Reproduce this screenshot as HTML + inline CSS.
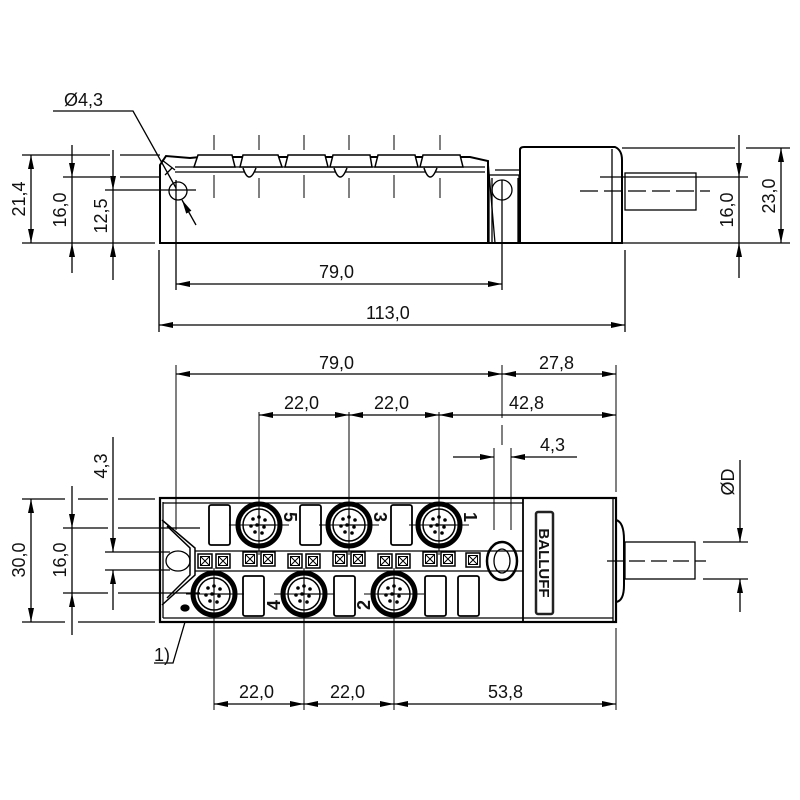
<!DOCTYPE html>
<html><head><meta charset="utf-8"><style>
html,body{margin:0;padding:0;background:#fff}
svg{display:block}
text{font-family:"Liberation Sans","DejaVu Sans",sans-serif;font-size:18px;fill:#111}
</style></head><body>
<svg width="800" height="800" viewBox="0 0 800 800" xmlns="http://www.w3.org/2000/svg">
<defs>
<marker id="a" viewBox="0 0 14 6" refX="14" refY="3" markerWidth="14" markerHeight="6" markerUnits="userSpaceOnUse" orient="auto-start-reverse"><path d="M0,0 L14,3 L0,6 Z" fill="#000"/></marker>
<g id="conn">
<circle r="21" fill="none" stroke="#000" stroke-width="5"/>
<circle r="16" fill="none" stroke="#000" stroke-width="1.5"/>
<circle cx="-6" cy="-6" r="1.8"/><circle cx="0" cy="-8" r="1.8"/><circle cx="6" cy="-5" r="1.8"/>
<circle cx="-8" cy="1" r="1.8"/><circle cx="-2" cy="0" r="1.8"/><circle cx="5" cy="2" r="1.8"/>
<circle cx="-4" cy="7" r="1.8"/><circle cx="3" cy="8" r="1.8"/>
<path d="M0,-16 V0 H16" fill="none" stroke="#000" stroke-width="1.2"/>
</g>
<g id="led"><rect x="-7" y="-7" width="14" height="14" fill="#fff" stroke="#000" stroke-width="1.5"/><rect x="-4.5" y="-4.5" width="9" height="9" fill="none" stroke="#000" stroke-width="1"/><path d="M-4.5,-4.5 L4.5,4.5 M4.5,-4.5 L-4.5,4.5" stroke="#000" stroke-width="1"/></g>
</defs>
<g stroke="#000" fill="none" stroke-width="1.3">

<!-- ===== TOP SIDE VIEW ===== -->
<path d="M160,243 L160,165 L166,156 L190,158 L200,157 L470,157 L488,161 L488,243 Z" stroke-width="2"/>
<line x1="160" y1="243" x2="520" y2="243" stroke-width="2"/>
<line x1="175" y1="172" x2="485" y2="172"/>
<line x1="175" y1="167" x2="485" y2="167"/>
<g stroke-width="1.5" fill="#fff">
<path d="M194,167 L198,155 L232,155 L235,167 Z"/><path d="M240,167 L243,155 L278,155 L282,167 Z"/>
<path d="M285,167 L288,155 L325,155 L328,167 Z"/><path d="M330,167 L333,155 L370,155 L372,167 Z"/>
<path d="M375,167 L378,155 L415,155 L418,167 Z"/><path d="M420,167 L423,155 L460,155 L463,167 Z"/>
<path d="M243,168 Q249,186 256,168"/><path d="M334,168 Q340,186 347,168"/><path d="M424,168 Q430,186 437,168"/>
</g>
<circle cx="178" cy="191" r="9"/>
<path d="M162,160 L175,170 M165,175 L172,168"/>
<path d="M488,161 L495,243 M495,170 L520,170" />
<rect x="489" y="175" width="30" height="68" fill="none"/>
<path d="M492,178 L492,243 M518,178 L518,243"/>
<circle cx="502" cy="190" r="10"/>
<path d="M520,243 L520,150 Q520,147 524,147 L615,147 Q622,150 622,160 L622,243 Z" stroke-width="2"/>
<line x1="612" y1="149" x2="612" y2="243"/>
<rect x="625" y="173" width="71" height="37"/>
<line x1="580" y1="191" x2="710" y2="191" stroke-dasharray="18,6"/>

<g stroke-width="1">
<line x1="214" y1="135" x2="214" y2="150"/><line x1="259" y1="135" x2="259" y2="150"/>
<line x1="304" y1="135" x2="304" y2="150"/><line x1="349" y1="135" x2="349" y2="150"/>
<line x1="394" y1="135" x2="394" y2="150"/><line x1="440" y1="135" x2="440" y2="150"/>
<line x1="214" y1="175" x2="214" y2="198"/><line x1="259" y1="178" x2="259" y2="198"/>
<line x1="304" y1="175" x2="304" y2="198"/><line x1="349" y1="178" x2="349" y2="198"/>
<line x1="394" y1="175" x2="394" y2="198"/><line x1="440" y1="178" x2="440" y2="198"/>
</g>

<line x1="22" y1="155" x2="110" y2="155"/><line x1="120" y1="155" x2="160" y2="155"/>
<line x1="63" y1="177" x2="110" y2="177"/><line x1="120" y1="177" x2="160" y2="177"/>
<line x1="105" y1="190" x2="196" y2="190"/>
<line x1="22" y1="243" x2="155" y2="243"/>
<line x1="31" y1="155" x2="31" y2="243" marker-start="url(#a)" marker-end="url(#a)"/>
<line x1="72" y1="145" x2="72" y2="177" marker-end="url(#a)"/><line x1="72" y1="273" x2="72" y2="243" marker-end="url(#a)"/><line x1="72" y1="177" x2="72" y2="243"/>
<line x1="113" y1="150" x2="113" y2="190" marker-end="url(#a)"/><line x1="113" y1="280" x2="113" y2="243" marker-end="url(#a)"/><line x1="113" y1="190" x2="113" y2="243"/>
<line x1="176" y1="180" x2="176" y2="290"/>
<line x1="159" y1="250" x2="159" y2="332"/>
<line x1="502" y1="180" x2="502" y2="290"/>
<line x1="625" y1="250" x2="625" y2="332"/>
<polyline points="53,111 133,111 176,188" />
<line x1="196" y1="225" x2="182" y2="200" marker-end="url(#a)"/>
<line x1="622" y1="148" x2="735" y2="148"/><line x1="746" y1="148" x2="790" y2="148"/>
<line x1="600" y1="177" x2="748" y2="177"/>
<line x1="622" y1="243" x2="790" y2="243"/>
<line x1="739" y1="135" x2="739" y2="177" marker-end="url(#a)"/><line x1="739" y1="278" x2="739" y2="243" marker-end="url(#a)"/><line x1="739" y1="177" x2="739" y2="243"/>
<line x1="781" y1="148" x2="781" y2="243" marker-start="url(#a)" marker-end="url(#a)"/>
<line x1="176" y1="284" x2="502" y2="284" marker-start="url(#a)" marker-end="url(#a)"/>
<line x1="159" y1="325" x2="625" y2="325" marker-start="url(#a)" marker-end="url(#a)"/>

<!-- ===== FRONT VIEW ===== -->
<rect x="160" y="498" width="456" height="124" stroke-width="2.2"/>
<line x1="163" y1="503" x2="523" y2="503"/>
<line x1="163" y1="618" x2="613" y2="618"/>
<line x1="523" y1="498" x2="523" y2="622" stroke-width="1.8"/>
<line x1="163" y1="502" x2="163" y2="618"/>
<line x1="613" y1="498" x2="613" y2="622"/>
<path d="M162,520 L195,548 L195,575 L162,605 M167,526 L190,548 L190,575 L167,598" stroke-width="1.5"/>
<ellipse cx="178" cy="561" rx="12" ry="10"/>
<line x1="195" y1="551" x2="523" y2="551"/>
<line x1="195" y1="571" x2="523" y2="571"/>
<g stroke-width="1.8" fill="#fff">
<rect x="209" y="505" width="21" height="40" rx="2"/><rect x="300" y="505" width="21" height="40" rx="2"/><rect x="391" y="505" width="21" height="40" rx="2"/>
<rect x="243" y="576" width="21" height="40" rx="2"/><rect x="334" y="576" width="21" height="40" rx="2"/><rect x="425" y="576" width="21" height="40" rx="2"/><rect x="458" y="576" width="21" height="40" rx="2"/>
</g>
<g fill="#000" stroke="none">
<use href="#conn" x="259" y="525"/><use href="#conn" x="349" y="525"/><use href="#conn" x="439" y="525"/>
<use href="#conn" x="214" y="594"/><use href="#conn" x="304" y="594"/><use href="#conn" x="394" y="594"/>
</g>
<g>
<use href="#led" x="205" y="561"/><use href="#led" x="223" y="561"/>
<use href="#led" x="250" y="559"/><use href="#led" x="268" y="559"/>
<use href="#led" x="295" y="561"/><use href="#led" x="313" y="561"/>
<use href="#led" x="340" y="559"/><use href="#led" x="358" y="559"/>
<use href="#led" x="385" y="561"/><use href="#led" x="403" y="561"/>
<use href="#led" x="430" y="559"/><use href="#led" x="448" y="559"/>
<use href="#led" x="473" y="560"/>
</g>
<ellipse cx="502" cy="561" rx="15" ry="19" stroke-width="2.5"/>
<ellipse cx="502" cy="561" rx="8" ry="12"/>
<rect x="536" y="512" width="17" height="102" rx="2" fill="#fff" stroke="#222" stroke-width="2.5"/>
<path d="M616,520 Q624,522 624,540 L624,585 Q624,601 616,602" stroke-width="2"/>
<rect x="625" y="542" width="70" height="37"/>
<line x1="607" y1="561" x2="706" y2="561" stroke-dasharray="16,6"/>
<g stroke-width="1">
<line x1="259" y1="412" x2="259" y2="555"/><line x1="349" y1="412" x2="349" y2="555"/><line x1="439" y1="412" x2="439" y2="555"/>
<line x1="214" y1="568" x2="214" y2="710"/><line x1="304" y1="568" x2="304" y2="710"/><line x1="394" y1="568" x2="394" y2="710"/>
<line x1="176" y1="365" x2="176" y2="530"/>
<line x1="502" y1="365" x2="502" y2="418"/><line x1="502" y1="425" x2="502" y2="445"/>
<line x1="616" y1="365" x2="616" y2="492"/><line x1="616" y1="628" x2="616" y2="710"/>
<line x1="494" y1="448" x2="494" y2="530"/><line x1="511" y1="448" x2="511" y2="530"/>
<line x1="229" y1="525" x2="289" y2="525"/><line x1="319" y1="525" x2="379" y2="525"/><line x1="409" y1="525" x2="469" y2="525"/>
<line x1="186" y1="594" x2="244" y2="594"/><line x1="274" y1="594" x2="334" y2="594"/><line x1="364" y1="594" x2="424" y2="594"/>
</g>
<line x1="22" y1="499" x2="65" y2="499"/><line x1="78" y1="499" x2="108" y2="499"/><line x1="118" y1="499" x2="155" y2="499"/>
<line x1="63" y1="528" x2="108" y2="528"/><line x1="118" y1="528" x2="200" y2="528"/>
<line x1="105" y1="552" x2="170" y2="552"/>
<line x1="105" y1="570" x2="170" y2="570"/>
<line x1="63" y1="593" x2="108" y2="593"/><line x1="118" y1="593" x2="200" y2="593"/>
<line x1="22" y1="622" x2="65" y2="622"/><line x1="78" y1="622" x2="155" y2="622"/>
<line x1="31" y1="499" x2="31" y2="622" marker-start="url(#a)" marker-end="url(#a)"/>
<line x1="72" y1="486" x2="72" y2="528" marker-end="url(#a)"/><line x1="72" y1="635" x2="72" y2="593" marker-end="url(#a)"/><line x1="72" y1="528" x2="72" y2="593"/>
<line x1="113" y1="437" x2="113" y2="552" marker-end="url(#a)"/><line x1="113" y1="610" x2="113" y2="570" marker-end="url(#a)"/>
<line x1="176" y1="374" x2="502" y2="374" marker-start="url(#a)" marker-end="url(#a)"/>
<line x1="502" y1="374" x2="616" y2="374" marker-start="url(#a)" marker-end="url(#a)"/>
<line x1="259" y1="415" x2="349" y2="415" marker-start="url(#a)" marker-end="url(#a)"/>
<line x1="349" y1="415" x2="439" y2="415" marker-start="url(#a)" marker-end="url(#a)"/>
<line x1="439" y1="415" x2="616" y2="415" marker-start="url(#a)" marker-end="url(#a)"/>
<line x1="453" y1="457" x2="494" y2="457" marker-end="url(#a)"/>
<line x1="577" y1="457" x2="511" y2="457" marker-end="url(#a)"/>
<line x1="703" y1="542" x2="748" y2="542"/><line x1="703" y1="579" x2="748" y2="579"/>
<line x1="740" y1="460" x2="740" y2="542" marker-end="url(#a)"/>
<line x1="740" y1="612" x2="740" y2="579" marker-end="url(#a)"/>
<line x1="214" y1="704" x2="304" y2="704" marker-start="url(#a)" marker-end="url(#a)"/>
<line x1="304" y1="704" x2="394" y2="704" marker-start="url(#a)" marker-end="url(#a)"/>
<line x1="394" y1="704" x2="616" y2="704" marker-start="url(#a)" marker-end="url(#a)"/>
<polyline points="154,663 173,663 185,622"/>
<ellipse cx="185" cy="608" rx="4" ry="3" fill="#000"/>
</g>

<text x="64" y="106">Ø4,3</text>
<text x="319" y="278">79,0</text>
<text x="366" y="319">113,0</text>
<text x="319" y="369">79,0</text>
<text x="539" y="369">27,8</text>
<text x="284" y="409">22,0</text>
<text x="374" y="409">22,0</text>
<text x="509" y="409">42,8</text>
<text x="540" y="451">4,3</text>
<text x="239" y="698">22,0</text>
<text x="330" y="698">22,0</text>
<text x="488" y="698">53,8</text>
<text x="154" y="661">1)</text>
<text transform="translate(25,199) rotate(-90)" text-anchor="middle">21,4</text>
<text transform="translate(66,210) rotate(-90)" text-anchor="middle">16,0</text>
<text transform="translate(107,216) rotate(-90)" text-anchor="middle">12,5</text>
<text transform="translate(733,210) rotate(-90)" text-anchor="middle">16,0</text>
<text transform="translate(775,196) rotate(-90)" text-anchor="middle">23,0</text>
<text transform="translate(25,560) rotate(-90)" text-anchor="middle">30,0</text>
<text transform="translate(66,560) rotate(-90)" text-anchor="middle">16,0</text>
<text transform="translate(107,466) rotate(-90)" text-anchor="middle">4,3</text>
<text transform="translate(734,482) rotate(-90)" text-anchor="middle">ØD</text>
<text transform="translate(539,563) rotate(90)" text-anchor="middle" style="font-size:15px;font-weight:bold;fill:#111">BALLUFF</text>
<g style="font-size:11px;font-weight:bold">
<text transform="translate(284,512) rotate(90)">5</text>
<text transform="translate(374,512) rotate(90)">3</text>
<text transform="translate(464,512) rotate(90)">1</text>
<text transform="translate(280,610) rotate(-90)">4</text>
<text transform="translate(370,610) rotate(-90)">2</text>
</g>
</svg>
</body></html>
